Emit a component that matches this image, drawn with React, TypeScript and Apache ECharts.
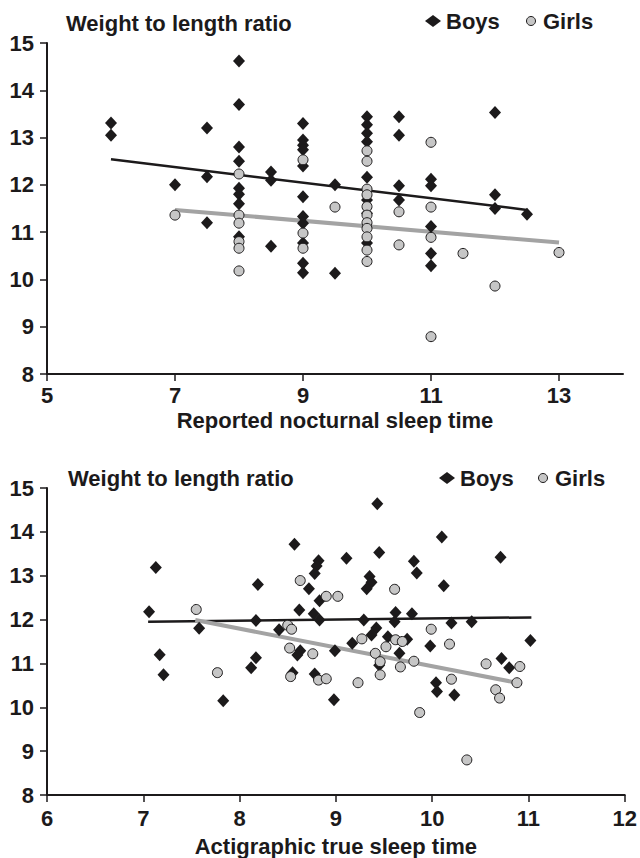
import React, { useEffect, useRef } from "react";
import * as echarts from "echarts";

// ---------- Data ----------
// Top panel: reported nocturnal sleep time vs weight-to-length ratio
const topBoys: [number, number][] = [
  [6, 13.31], [6, 13.05], [7, 12.0], [7.5, 13.2], [7.5, 12.17], [7.5, 11.2],
  [8, 14.62], [8, 13.7], [8, 12.8], [8, 12.5], [8, 11.93], [8, 11.8], [8, 11.6], [8, 10.9],
  [8.5, 12.27], [8.5, 12.1], [8.5, 10.7],
  [9, 13.3], [9, 12.95], [9, 12.84], [9, 12.74], [9, 12.4], [9, 11.75], [9, 11.33], [9, 11.19],
  [9, 10.77], [9, 10.34], [9, 10.14],
  [9.5, 12.0], [9.5, 10.13],
  [10, 13.44], [10, 13.27], [10, 13.09], [10, 12.91], [10, 12.16], [10, 11.68], [10, 11.4], [10, 10.77],
  [10.5, 13.44], [10.5, 13.05], [10.5, 11.98], [10.5, 11.68],
  [11, 12.12], [11, 11.98], [11, 11.12], [11, 10.55], [11, 10.29],
  [12, 13.53], [12, 11.79], [12, 11.5],
  [12.5, 11.38],
];
const topGirls: [number, number][] = [
  [7, 11.36], [8, 12.23], [8, 11.36], [8, 11.19], [8, 10.8], [8, 10.66], [8, 10.18],
  [9, 12.53], [9, 10.98], [9, 10.66],
  [9.5, 11.53],
  [10, 12.72], [10, 12.5], [10, 11.91], [10, 11.79], [10, 11.54], [10, 11.36], [10, 11.2],
  [10, 11.08], [10, 10.9], [10, 10.62], [10, 10.38],
  [10.5, 11.43], [10.5, 10.73],
  [11, 12.9], [11, 11.53], [11, 10.89], [11, 8.79],
  [11.5, 10.55], [12, 9.86], [13, 10.57],
];
const topBoysFit: [number, number][] = [[6, 12.54], [12.5, 11.47]];
const topGirlsFit: [number, number][] = [[7, 11.47], [13, 10.78]];

// Bottom panel: actigraphic true sleep time vs weight-to-length ratio
const bottomBoys: [number, number][] = [
  [7.13, 13.19], [7.06, 12.18], [7.58, 11.8], [7.17, 11.2], [7.21, 10.74], [7.83, 10.15],
  [8.19, 12.8], [8.17, 11.98], [8.17, 11.13], [8.12, 10.9], [8.41, 11.77],
  [8.57, 13.72], [8.72, 12.7], [8.62, 12.22], [8.77, 12.13], [8.82, 13.34], [8.8, 13.22],
  [8.78, 13.05], [8.63, 11.29], [8.6, 11.19], [8.55, 10.79], [8.78, 10.76], [8.83, 12.43],
  [8.83, 11.99],
  [9.43, 14.64], [10.1, 13.88], [10.71, 13.42], [9.11, 13.4], [9.45, 13.53], [9.81, 13.33],
  [9.84, 13.06], [9.35, 12.98], [9.37, 12.85], [9.32, 12.7], [10.12, 12.77], [9.29, 11.99],
  [9.62, 12.16], [9.61, 11.95], [9.79, 12.13], [10.2, 11.92], [10.41, 11.95], [9.42, 11.81],
  [9.37, 11.65], [9.54, 11.61], [9.74, 11.55], [9.17, 11.46], [9.98, 11.4], [8.99, 11.29],
  [9.66, 11.23], [9.45, 10.96], [10.04, 10.56], [10.05, 10.36], [10.23, 10.28], [8.98, 10.17],
  [11.02, 11.52], [10.72, 11.11], [10.8, 10.9],
];
const bottomGirls: [number, number][] = [
  [7.55, 12.23], [7.77, 10.79], [8.63, 12.89], [8.5, 11.87], [8.54, 11.78], [8.52, 11.35],
  [8.76, 11.22], [8.53, 10.7], [8.82, 10.62], [8.9, 10.65], [8.9, 12.53], [9.02, 12.53],
  [9.61, 12.69], [9.99, 11.78], [9.27, 11.56], [9.62, 11.54], [9.69, 11.5], [9.52, 11.38],
  [10.18, 11.44], [9.41, 11.23], [9.46, 11.04], [9.67, 10.92], [9.81, 11.05], [9.46, 10.74],
  [9.23, 10.56], [10.2, 10.64], [10.56, 10.99], [10.91, 10.93], [10.88, 10.56], [10.66, 10.4],
  [10.7, 10.21], [9.87, 9.88], [10.36, 8.8],
];
const bottomBoysFit: [number, number][] = [[7.05, 11.95], [11.03, 12.05]];
const bottomGirlsFit: [number, number][] = [[7.54, 11.99], [10.88, 10.56]];

const topXTicks = [5, 7, 9, 11, 13];
const bottomXTicks = [6, 7, 8, 9, 10, 11, 12];
const chartTitle = "Weight to length ratio";
const topXName = "Reported nocturnal sleep time";
const bottomXName = "Actigraphic true sleep time";

// ---------- Styles ----------
const INK = "#1c1a1b";
const GIRL_FILL = "#c6c6c6";
const FIT_GRAY = "#a3a3a3";
const FONT = "'Liberation Sans', Arial, Helvetica, sans-serif";

const boldText = (size: number) => ({
  fontFamily: FONT,
  fontWeight: "bold" as const,
  fontSize: size,
  color: INK,
});

function xAxisFor(gridIndex: number, min: number, max: number, ticks: number[], name: string, labelMargin: number, nameGap: number) {
  return {
    type: "value",
    gridIndex,
    min,
    max,
    interval: 1,
    name,
    nameLocation: "middle",
    nameGap,
    nameTextStyle: boldText(22),
    axisLine: { show: true, onZero: false, lineStyle: { color: INK, width: 2 } },
    axisTick: { show: true, inside: false, length: 7, customValues: ticks, lineStyle: { color: INK, width: 1.5 } },
    axisLabel: { show: true, margin: labelMargin, customValues: ticks, ...boldText(22) },
    splitLine: { show: false },
  };
}

function yAxisFor(gridIndex: number) {
  return {
    type: "value",
    gridIndex,
    min: 8,
    max: 15,
    interval: 1,
    axisLine: { show: true, onZero: false, lineStyle: { color: INK, width: 2 } },
    axisTick: { show: true, inside: false, length: 7, lineStyle: { color: INK, width: 1.5 } },
    axisLabel: { show: true, margin: 13, ...boldText(22) },
    splitLine: { show: false },
  };
}

const boysStyle = { color: INK, opacity: 1 };
const girlsStyle = { color: GIRL_FILL, borderColor: INK, borderWidth: 1, opacity: 1 };

function scatter(name: string, data: [number, number][], idx: number, boys: boolean) {
  return {
    type: "scatter",
    name,
    xAxisIndex: idx,
    yAxisIndex: idx,
    data,
    symbol: boys ? "diamond" : "circle",
    symbolSize: boys ? [12, 13] : 10,
    itemStyle: boys ? boysStyle : girlsStyle,
    z: 3,
  };
}

function fit(data: [number, number][], idx: number, boys: boolean) {
  return {
    type: "line",
    name: boys ? "Boys fit" : "Girls fit",
    xAxisIndex: idx,
    yAxisIndex: idx,
    data,
    showSymbol: false,
    symbol: "none",
    lineStyle: { color: boys ? INK : FIT_GRAY, width: boys ? 2.5 : 4 },
    z: 2,
    silent: true,
  };
}

function boysLegend(left: number, top: number) {
  return {
    left,
    top,
    itemWidth: 16,
    itemHeight: 12,
    padding: 0,
    selectedMode: false,
    textStyle: boldText(22),
    data: [{ name: "Boys", icon: "diamond", itemStyle: { color: INK, borderWidth: 0 } }],
  };
}

function girlsLegend(left: number, top: number) {
  return {
    left,
    top,
    itemWidth: 14,
    itemHeight: 9,
    padding: 0,
    selectedMode: false,
    textStyle: boldText(22),
    data: [{ name: "Girls", icon: "circle", itemStyle: { color: GIRL_FILL, borderColor: INK, borderWidth: 1 } }],
  };
}

export default function App() {
  const ref = useRef<HTMLDivElement | null>(null);

  useEffect(() => {
    if (!ref.current) return;
    const chart = echarts.init(ref.current, undefined, { renderer: "svg" });
    chart.setOption({
      animation: false,
      backgroundColor: "#ffffff",
      title: [
        { text: chartTitle, left: 66, top: 12, padding: 0, textStyle: boldText(22) },
        { text: chartTitle, left: 68, top: 467, padding: 0, textStyle: boldText(22) },
      ],
      legend: [
        boysLegend(425, 10),
        girlsLegend(526, 10),
        boysLegend(439, 467),
        girlsLegend(538, 467),
      ],
      grid: [
        { left: 47, top: 43, width: 576, height: 331 },
        { left: 47, top: 488, width: 578, height: 307 },
      ],
      xAxis: [
        xAxisFor(0, 5, 14, topXTicks, topXName, 10, 35),
        xAxisFor(1, 6, 12, bottomXTicks, bottomXName, 12, 40),
      ],
      yAxis: [yAxisFor(0), yAxisFor(1)],
      series: [
        fit(topBoysFit, 0, true),
        fit(topGirlsFit, 0, false),
        scatter("Boys", topBoys, 0, true),
        scatter("Girls", topGirls, 0, false),
        fit(bottomBoysFit, 1, true),
        fit(bottomGirlsFit, 1, false),
        scatter("Boys", bottomBoys, 1, true),
        scatter("Girls", bottomGirls, 1, false),
      ],
    });
    return () => chart.dispose();
  }, []);

  return (
    <div
      ref={ref}
      style={{ position: "absolute", left: 0, top: 0, width: 640, height: 858 }}
    />
  );
}
